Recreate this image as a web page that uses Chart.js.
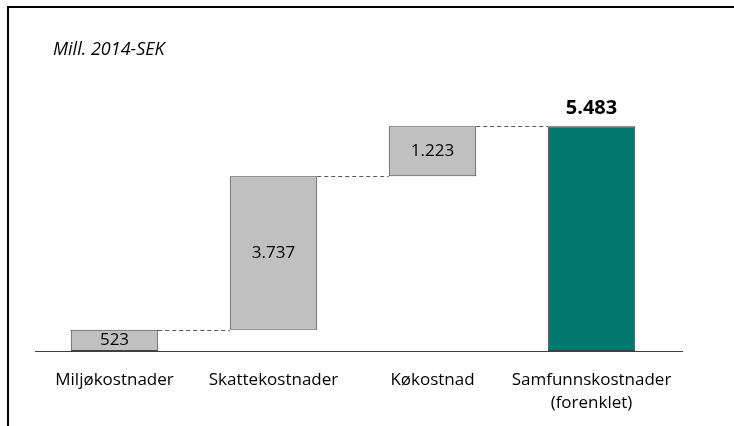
<!DOCTYPE html>
<html>
<head>
<meta charset="utf-8">
<script src="https://cdn.jsdelivr.net/npm/chart.js@4/dist/chart.umd.min.js"></script>
<style>
  html, body { margin: 0; padding: 0; background: #fff; }
  #wrap { position: relative; width: 734px; height: 426px; }
  #frame { position: absolute; left: 7px; top: 6px; right: 0; bottom: 0; border-top: 2px solid #000; border-left: 2px solid #000; pointer-events: none; }
  canvas { position: absolute; left: 0; top: 0; }
</style>
</head>
<body>
<div id="wrap">
  <canvas id="chart" width="734" height="426"></canvas>
  <div id="frame"></div>
</div>
<script>
const categories = [['Miljøkostnader'], ['Skattekostnader'], ['Køkostnad'], ['Samfunnskostnader', '(forenklet)']];
const steps = [523, 3737, 1223];
const total = 5483;
const valueLabels = ['523', '3.737', '1.223', '5.483'];
const unitLabel = 'Mill. 2014-SEK';

// floating bars: each step starts where the previous one ended, total from 0
const ranges = [];
let running = 0;
for (const s of steps) {
  ranges.push([running, running + s]);
  running += s;
}
ranges.push([0, total]);

const font = "'Open Sans', sans-serif";

const waterfallExtras = {
  id: 'waterfallExtras',
  afterDatasetsDraw(chart) {
    const ctx = chart.ctx;
    const bars = chart.getDatasetMeta(0).data;
    const y = chart.scales.y;
    const area = chart.chartArea;

    // baseline, runs a little past the last category
    ctx.save();
    ctx.strokeStyle = '#404040';
    ctx.lineWidth = 1;
    const base = Math.round(y.getPixelForValue(0)) + 0.5;
    ctx.beginPath();
    ctx.moveTo(area.left, base);
    ctx.lineTo(area.right + 12, base);
    ctx.stroke();

    // dashed connectors
    ctx.strokeStyle = '#595959';
    ctx.setLineDash([4, 3]);
    for (let i = 0; i < bars.length - 1; i++) {
      const top = Math.round(y.getPixelForValue(ranges[i][1])) + 0.5;
      ctx.beginPath();
      ctx.moveTo(bars[i].x + bars[i].width / 2, top);
      ctx.lineTo(bars[i + 1].x - bars[i + 1].width / 2, top);
      ctx.stroke();
    }
    ctx.restore();

    // value labels
    ctx.save();
    ctx.fillStyle = '#000';
    ctx.textAlign = 'center';
    ctx.textBaseline = 'middle';
    bars.forEach((bar, i) => {
      if (i === bars.length - 1) {
        ctx.font = "bold 20px " + font;
        ctx.fillText(valueLabels[i], bar.x, bar.y - 18);
      } else {
        ctx.font = "17px " + font;
        ctx.fillText(valueLabels[i], bar.x, (bar.y + bar.base) / 2);
      }
    });

    // unit text
    ctx.font = "italic 18px " + font;
    ctx.textAlign = 'left';
    ctx.fillText(unitLabel, 53, 50);
    ctx.restore();
  }
};

new Chart(document.getElementById('chart'), {
  type: 'bar',
  data: {
    labels: categories,
    datasets: [{
      data: ranges,
      backgroundColor: ['#C0C0C0', '#C0C0C0', '#C0C0C0', '#00786E'],
      borderColor: '#404040',
      borderWidth: 1,
      borderSkipped: false,
      barPercentage: 0.55,
      categoryPercentage: 1
    }]
  },
  options: {
    responsive: false,
    animation: false,
    layout: { padding: { left: 35, right: 63, top: 105, bottom: -7 } },
    plugins: {
      legend: { display: false },
      tooltip: { enabled: false }
    },
    scales: {
      x: {
        grid: { display: false, drawTicks: false },
        border: { display: false },
        ticks: {
          color: '#000',
          font: { family: font, size: 17, lineHeight: 1.35 },
          padding: 18,
          maxRotation: 0,
          autoSkip: false
        }
      },
      y: {
        display: false,
        min: 0,
        max: 6000
      }
    }
  },
  plugins: [waterfallExtras]
});
</script>
</body>
</html>
